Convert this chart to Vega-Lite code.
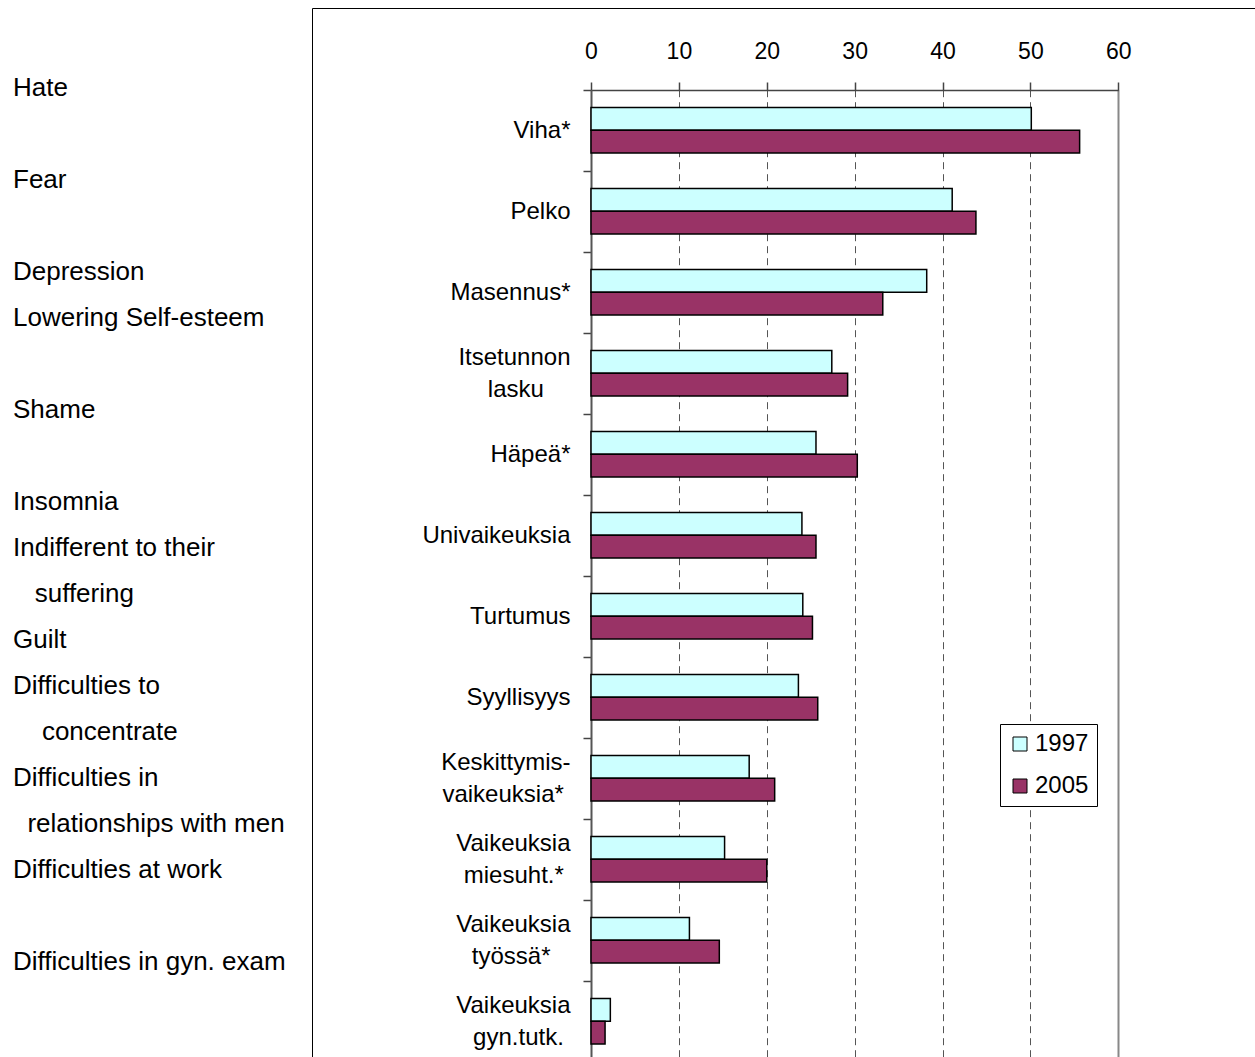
{
  "$schema": "https://vega.github.io/schema/vega-lite/v6.json",
  "padding": {"left": 0, "top": 7, "right": 0, "bottom": 0},
  "autosize": {"type": "pad"},
  "background": "white",
  "bounds": "flush",
  "spacing": 286,
  "config": {"font": "Liberation Sans", "view": {"stroke": null}},
  "resolve": {"scale": {"x": "independent", "y": "independent", "color": "independent", "fill": "independent"}, "legend": {"fill": "independent"}},
  "hconcat": [
    {
      "width": 26,
      "height": 1049,
      "data": {"values": [
        {"line": 0, "text": "Hate"},
        {"line": 2, "text": "Fear"},
        {"line": 4, "text": "Depression"},
        {"line": 5, "text": "Lowering Self-esteem"},
        {"line": 7, "text": "Shame"},
        {"line": 9, "text": "Insomnia"},
        {"line": 10, "text": "Indifferent to their"},
        {"line": 11, "text": "\u200b\u00a0\u00a0\u00a0suffering"},
        {"line": 12, "text": "Guilt"},
        {"line": 13, "text": "Difficulties to"},
        {"line": 14, "text": "\u200b\u00a0\u00a0\u00a0\u00a0concentrate"},
        {"line": 15, "text": "Difficulties in"},
        {"line": 16, "text": "\u200b\u00a0\u00a0relationships with men"},
        {"line": 17, "text": "Difficulties at work"},
        {"line": 19, "text": "Difficulties in gyn. exam"}
      ]},
      "mark": {"type": "text", "align": "left", "baseline": "top", "fontSize": 26, "color": "black", "font": "Liberation Sans"},
      "encoding": {
        "y": {"field": "line", "type": "quantitative", "scale": {"domain": [-1.4565, 21.348], "reverse": true, "nice": false, "zero": false}, "axis": null},
        "text": {"field": "text", "type": "nominal"}
      }
    },
    {
      "width": 943,
      "height": 1049,
      "view": {"stroke": "black", "strokeWidth": 1},
      "data": {"values": [
        {"cat": "Viha*", "year": "1997", "value": 50.1},
        {"cat": "Viha*", "year": "2005", "value": 55.6},
        {"cat": "Pelko", "year": "1997", "value": 41.1},
        {"cat": "Pelko", "year": "2005", "value": 43.8},
        {"cat": "Masennus*", "year": "1997", "value": 38.2},
        {"cat": "Masennus*", "year": "2005", "value": 33.2},
        {"cat": "Itsetunnon\nlasku", "year": "1997", "value": 27.4},
        {"cat": "Itsetunnon\nlasku", "year": "2005", "value": 29.2},
        {"cat": "Häpeä*", "year": "1997", "value": 25.6},
        {"cat": "Häpeä*", "year": "2005", "value": 30.3},
        {"cat": "Univaikeuksia", "year": "1997", "value": 24.0},
        {"cat": "Univaikeuksia", "year": "2005", "value": 25.6},
        {"cat": "Turtumus", "year": "1997", "value": 24.1},
        {"cat": "Turtumus", "year": "2005", "value": 25.2},
        {"cat": "Syyllisyys", "year": "1997", "value": 23.6},
        {"cat": "Syyllisyys", "year": "2005", "value": 25.8},
        {"cat": "Keskittymis-\nvaikeuksia*", "year": "1997", "value": 18.0},
        {"cat": "Keskittymis-\nvaikeuksia*", "year": "2005", "value": 20.9},
        {"cat": "Vaikeuksia\nmiesuht.*", "year": "1997", "value": 15.2},
        {"cat": "Vaikeuksia\nmiesuht.*", "year": "2005", "value": 20.0},
        {"cat": "Vaikeuksia\ntyössä*", "year": "1997", "value": 11.2},
        {"cat": "Vaikeuksia\ntyössä*", "year": "2005", "value": 14.6},
        {"cat": "Vaikeuksia\ngyn.tutk.", "year": "1997", "value": 2.2},
        {"cat": "Vaikeuksia\ngyn.tutk.", "year": "2005", "value": 1.6}
      ]},
      "mark": {"type": "bar", "stroke": "black", "strokeWidth": 1.5},
      "encoding": {
        "y": {
          "field": "cat", "type": "nominal", "sort": null,
          "scale": {"range": [81.7, 1053.7], "paddingInner": 0, "paddingOuter": 0},
          "axis": {
            "orient": "left", "offset": -279, "title": null,
            "tickOffset": -40.5,
            "labelOffset": {"condition": {"test": "indexof(datum.label, '\\n') >= 0", "value": 24.5}, "value": 40.5},
            "tickSize": 8, "tickColor": "#444", "tickWidth": 1.5,
            "domainColor": "#555", "domainWidth": 2,
            "labelFontSize": 24, "labelColor": "black", "labelPadding": 13,
            "labelLineHeight": 32, "labelAlign": "right", "labelBaseline": "middle", "labelLimit": 300,
            "labelExpr": "length(split(datum.label, '\\n')) < 2 ? datum.label : [pad(split(datum.label, '\\n')[0], length(split(datum.label, '\\n')[0]) + max(0, round(0.85 * (length(split(datum.label, '\\n')[1]) - length(split(datum.label, '\\n')[0])))), '\u00a0') + '\u200b', pad(split(datum.label, '\\n')[1], length(split(datum.label, '\\n')[1]) + max(0, round(0.85 * (length(split(datum.label, '\\n')[0]) - length(split(datum.label, '\\n')[1])))), '\u00a0') + '\u200b']",
            "grid": false
          }
        },
        "yOffset": {"field": "year", "type": "nominal", "sort": ["1997", "2005"], "scale": {"paddingInner": 0, "paddingOuter": 0.78}},
        "x": {
          "field": "value", "type": "quantitative",
          "scale": {"domain": [0, 60], "range": [279, 806.3], "nice": false},
          "axis": {
            "orient": "top", "offset": -82, "values": [0, 10, 20, 30, 40, 50, 60], "title": null,
            "labelFontSize": 23, "labelColor": "black", "labelBaseline": "alphabetic", "labelPadding": 24,
            "labelFlush": false, "labelOverlap": false,
            "tickSize": 8, "tickColor": "#444", "tickWidth": 1.5,
            "domainColor": "#444", "domainWidth": 1.5,
            "grid": true,
            "gridColor": {"condition": {"test": "datum.value === 60", "value": "#888"}, "value": "#555"},
            "gridDash": {"condition": {"test": "datum.value === 60", "value": []}, "value": [7, 5]},
            "gridWidth": {"condition": {"test": "datum.value === 60", "value": 2}, "value": 1}
          }
        },
        "fill": {
          "field": "year", "type": "nominal",
          "scale": {"domain": ["1997", "2005"], "range": ["#CCFFFF", "#993366"]},
          "legend": {
            "orient": "none", "legendX": 688, "legendY": 716, "title": null, "direction": "vertical",
            "symbolType": "square", "symbolSize": 196, "symbolStrokeColor": "black", "symbolStrokeWidth": 1,
            "symbolOpacity": 1, "labelFontSize": 24, "labelColor": "black", "labelOffset": 3,
            "rowPadding": 18, "padding": 8, "strokeColor": "black", "fillColor": "white", "cornerRadius": 0
          }
        }
      }
    }
  ]
}
